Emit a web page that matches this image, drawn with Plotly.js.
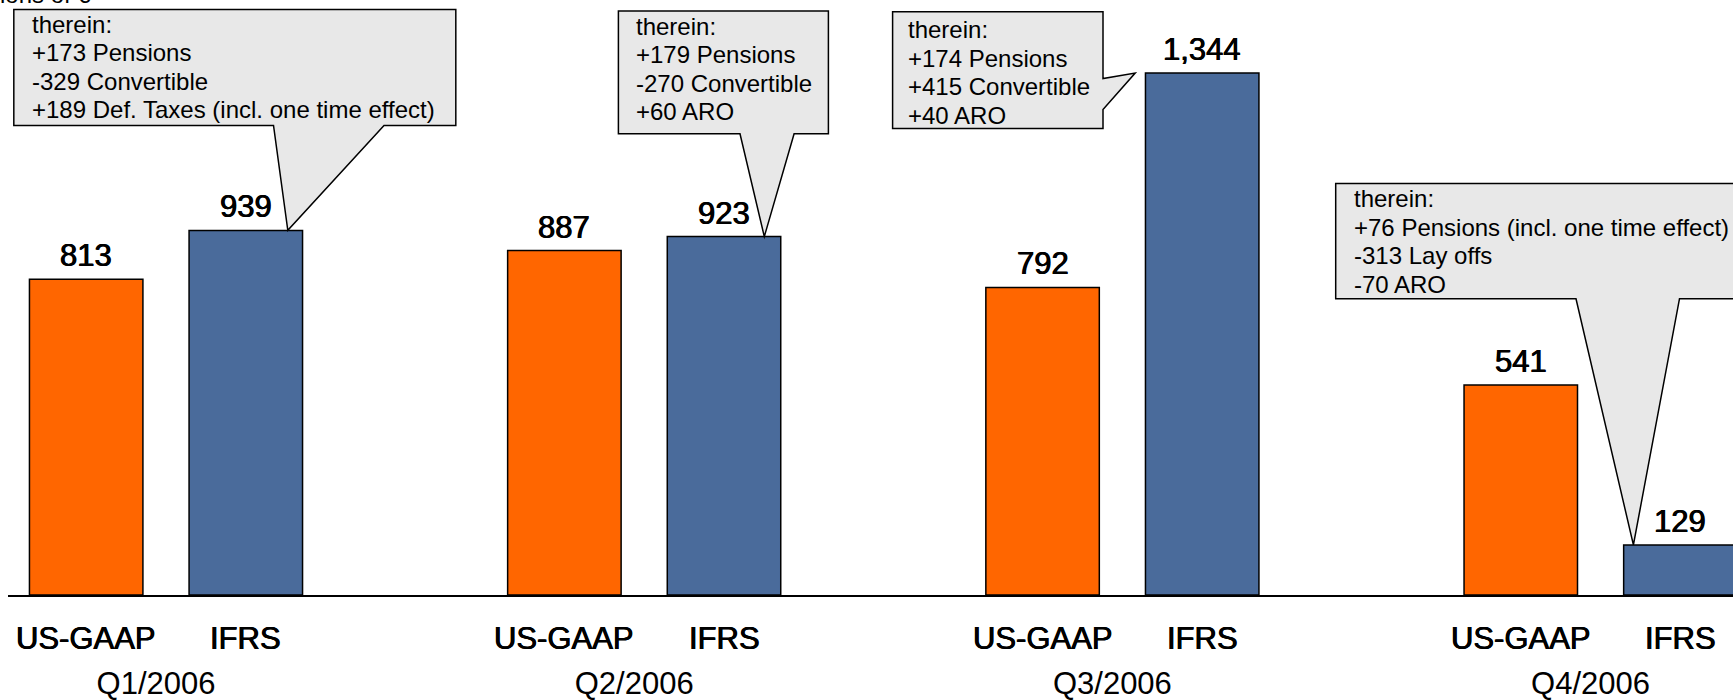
<!DOCTYPE html>
<html><head><meta charset="utf-8">
<script src="https://cdn.plot.ly/plotly-3.0.1.min.js"></script>
<style>html,body{margin:0;padding:0;background:#fff;overflow:hidden}#chart{width:1733px;height:700px}</style>
</head><body><div id="chart"></div>
<script>
// ---- data ----
const periods = ['Q1/2006', 'Q2/2006', 'Q3/2006', 'Q4/2006'];
const usGaap = [813, 887, 792, 541];
const ifrs = [939, 923, 1344, 129];
const methodLabels = ['US-GAAP', 'IFRS'];
const unitLabel = 'millions of €';
const calloutQ1 = ['therein:', '+173 Pensions', '-329 Convertible', '+189 Def. Taxes (incl. one time effect)'];
const calloutQ2 = ['therein:', '+179 Pensions', '-270 Convertible', '+60 ARO'];
const calloutQ3 = ['therein:', '+174 Pensions', '+415 Convertible', '+40 ARO'];
const calloutQ4 = ['therein:', '+76 Pensions (incl. one time effect)', '-313 Lay offs', '-70 ARO'];

// ---- layout constants ----
const HALF = 0.1669;      // half distance between the two bars of a period
const BARW = 0.2373;      // bar width (category units)
const FONT = 'Liberation Sans, Arial, sans-serif';
const LINE_H = 28.5;
const HEAVY = '0.45px 0 0 #000, -0.45px 0 0 #000';

// callout geometry in pixels relative to the top-centre of the IFRS bar it points to (y up)
const calloutGeom = [
  {lines: calloutQ1, kind: 'bottom', L: -232, R: 210, T: 221, B: 105, wa: 27.7, wb: 138.2, tx: 42, ty: 0, top: 15, pad: 16},
  {lines: calloutQ2, kind: 'bottom', L: -105.6, R: 104.4, T: 225.5, B: 102.8, wa: 16, wb: 70.1, tx: 40.3, ty: 0, top: 15, pad: 16},
  {lines: calloutQ3, kind: 'right', L: -309.6, R: -99.2, T: 61.4, B: -55.3, wa: -5.4, wb: -36.4, tx: -67, ty: 0, top: 18, pad: 13},
  {lines: calloutQ4, kind: 'bottom', L: -344.7, R: 75, T: 361.4, B: 246.2, wa: -104.4, wb: -0.9, tx: -47, ty: 0, top: 15, pad: 16}
];

function barTrace(vals, offs, color) {
  return {
    type: 'bar', x: periods, y: vals, offset: offs, width: BARW,
    marker: {color: color, line: {color: '#000', width: 1.5}},
    hoverinfo: 'skip', showlegend: false
  };
}

const traces = [
  barTrace(usGaap, -HALF - BARW / 2, '#FF6600'),
  barTrace(ifrs, HALF - BARW / 2, '#4A6B9B')
];

const shapes = [];
const annotations = [];

calloutGeom.forEach((g, i) => {
  let p;
  if (g.kind === 'bottom') {
    p = `M${g.L},${g.T} L${g.R},${g.T} L${g.R},${g.B} L${Math.max(g.wa, g.wb)},${g.B} L${g.tx},${g.ty} L${Math.min(g.wa, g.wb)},${g.B} L${g.L},${g.B} Z`;
  } else {
    p = `M${g.L},${g.T} L${g.R},${g.T} L${g.R},${g.wa} L${g.tx},${g.ty} L${g.R},${g.wb} L${g.R},${g.B} L${g.L},${g.B} Z`;
  }
  shapes.push({
    type: 'path', xref: 'x', yref: 'y', xsizemode: 'pixel', ysizemode: 'pixel',
    xanchor: i + HALF, yanchor: ifrs[i], path: p,
    fillcolor: '#E8E8E8', line: {color: '#000', width: 1.5}, layer: 'above'
  });
  g.lines.forEach((t, k) => {
    annotations.push({
      xref: 'x', yref: 'y', x: i + HALF, y: ifrs[i], xanchor: 'left', yanchor: 'middle',
      xshift: g.L + g.pad, yshift: g.T - g.top - k * LINE_H,
      text: t, showarrow: false, font: {family: FONT, size: 24, color: '#000'}
    });
  });
});

// value labels and method labels
const seriesVals = [usGaap, ifrs];
periods.forEach((p, i) => {
  methodLabels.forEach((m, j) => {
    const xpos = i + (j === 0 ? -HALF : HALF);
    const v = seriesVals[j][i];
    annotations.push({
      xref: 'x', yref: 'y', x: xpos, y: v, xanchor: 'center', yanchor: 'bottom', yshift: 4,
      text: v.toLocaleString('en-US'), showarrow: false,
      font: {family: FONT, size: 31, color: '#000', shadow: HEAVY}
    });
    annotations.push({
      xref: 'x', yref: 'y', x: xpos, y: 0,
      xanchor: 'center', yanchor: 'middle', yshift: -43,
      text: m, showarrow: false, font: {family: FONT, size: 31, color: '#000', shadow: HEAVY}
    });
  });
});

annotations.push({
  xref: 'paper', yref: 'paper', x: 0, y: 1, xanchor: 'right', yanchor: 'bottom',
  xshift: 85, yshift: -10, text: unitLabel, showarrow: false,
  font: {family: FONT, size: 24, color: '#000'}
});

const layout = {
  width: 1733, height: 700,
  margin: {l: 8, r: 0, t: 0, b: 105},
  paper_bgcolor: '#fff', plot_bgcolor: '#fff',
  barmode: 'overlay',
  showlegend: false,
  xaxis: {
    type: 'category', range: [-0.3304, 3.2769], fixedrange: true,
    showline: true, linecolor: '#000', linewidth: 1.5, ticks: '', showgrid: false, zeroline: false,
    tickfont: {family: FONT, size: 31, color: '#000'},
    ticklabelstandoff: 60, ticklabelshift: -10
  },
  yaxis: {range: [0, 1532.3], visible: false, fixedrange: true},
  shapes: shapes,
  annotations: annotations
};

Plotly.newPlot('chart', traces, layout, {staticPlot: true, displayModeBar: false});
</script>
</body></html>
